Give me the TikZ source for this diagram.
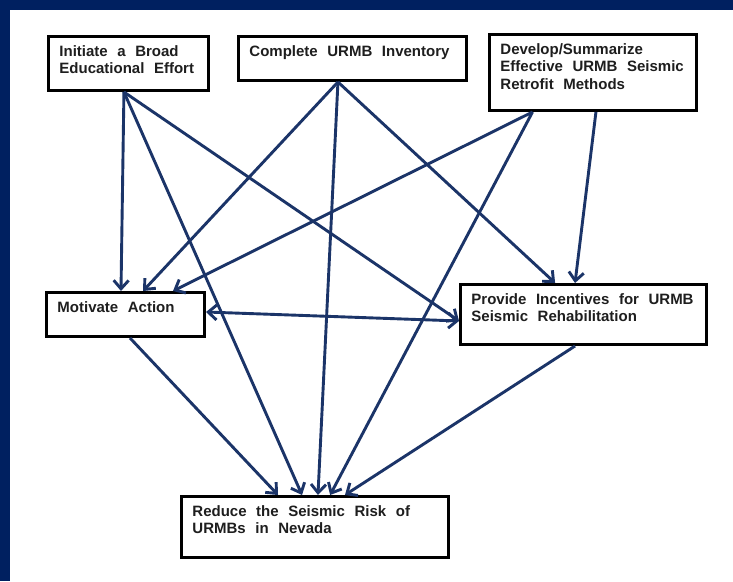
\documentclass[tikz,border=0pt]{standalone}
\usepackage{fontspec}
\setmainfont{Liberation Sans}
\newfontfamily\boxfont[WordSpace=2.3]{Liberation Sans}
\usetikzlibrary{arrows.meta,calc}
\definecolor{navy}{HTML}{002060}
\definecolor{arrowblue}{HTML}{1B3468}
\definecolor{inkgray}{HTML}{1E1E1E}
\tikzset{
  box/.style={draw=black, line width=2.9pt, fill=white, anchor=north west, inner sep=0pt,
    font=\boxfont\bfseries\fontsize{15}{17.5}\selectfont, text=inkgray},
  conn/.style={draw=arrowblue, line width=2.9pt, -{Straight Barb[length=8.5pt,width=15pt]}},
  dconn/.style={draw=arrowblue, line width=2.9pt, {Straight Barb[length=8.5pt,width=15pt]}-{Straight Barb[length=8.5pt,width=15pt]}},
}
\newcommand{\boxnode}[6]{%
  \node[box] (#1) at (#2,#3)
   {\parbox[c][\dimexpr#5pt-2.9pt\relax][t]{\dimexpr#4pt-2.9pt\relax}{\vspace*{9pt}\leftskip=11pt\rightskip=0pt plus 1fil\noindent #6}};}
\begin{document}
\begin{tikzpicture}[x=1pt,y=-1pt]
\useasboundingbox (0,0) rectangle (733,581);
\fill[white] (0,0) rectangle (733,581);
\fill[navy] (0,0) rectangle (733,10);
\fill[navy] (0,0) rectangle (10,581);

\boxnode{b1}{47}{35}{163}{57}{Initiate a Broad\\Educational Effort}
\boxnode{b2}{237}{35}{231}{47}{Complete URMB Inventory}
\boxnode{b3}{488}{33}{210}{79}{Develop/Summarize\\Effective URMB Seismic\\Retrofit Methods}
\boxnode{bm}{45}{291}{161}{47}{Motivate Action}
\boxnode{bp}{459}{283}{249}{63}{Provide Incentives for URMB\\Seismic Rehabilitation}
\boxnode{br}{180}{495}{270}{64}{Reduce the Seismic Risk of\\URMBs in Nevada}

% ports
\coordinate (b1s) at ($(b1.south west)!0.472!(b1.south east)$);
\coordinate (b2s) at ($(b2.south west)!0.437!(b2.south east)$);
\coordinate (b3sa) at ($(b3.south west)!0.212!(b3.south east)$);
\coordinate (b3sb) at ($(b3.south west)!0.514!(b3.south east)$);
\coordinate (bmn1) at ($(bm.north west)!0.472!(bm.north east)$);
\coordinate (bmn2) at ($(bm.north west)!0.609!(bm.north east)$);
\coordinate (bmn3) at ($(bm.north west)!0.795!(bm.north east)$);
\coordinate (bms) at ($(bm.south west)!0.528!(bm.south east)$);
\coordinate (bme) at ($(bm.north east)!0.447!(bm.south east)$);
\coordinate (bpw) at ($(bp.north west)!0.603!(bp.south west)$);
\coordinate (bpn1) at ($(bp.north west)!0.386!(bp.north east)$);
\coordinate (bpn2) at ($(bp.north west)!0.466!(bp.north east)$);
\coordinate (bps) at ($(bp.south west)!0.466!(bp.south east)$);
\coordinate (brn1) at ($(br.north west)!0.363!(br.north east)$);
\coordinate (brn2) at ($(br.north west)!0.452!(br.north east)$);
\coordinate (brn3) at ($(br.north west)!0.511!(br.north east)$);
\coordinate (brn4) at ($(br.north west)!0.556!(br.north east)$);
\coordinate (brn5) at ($(br.north west)!0.611!(br.north east)$);

\draw[conn] (b1s) -- (bmn1);
\draw[conn] (b1s) -- (brn2);
\draw[conn] (b1s) -- (bpw);
\draw[conn] (b2s) -- (bmn2);
\draw[conn] (b2s) -- (brn3);
\draw[conn] (b2s) -- (bpn1);
\draw[conn] (b3sa) -- (bmn3);
\draw[conn] (b3sa) -- (brn4);
\draw[conn] (b3sb) -- (bpn2);
\draw[dconn] (bme) -- (bpw);
\draw[conn] (bms) -- (brn1);
\draw[conn] (bps) -- (brn5);
\end{tikzpicture}
\end{document}
